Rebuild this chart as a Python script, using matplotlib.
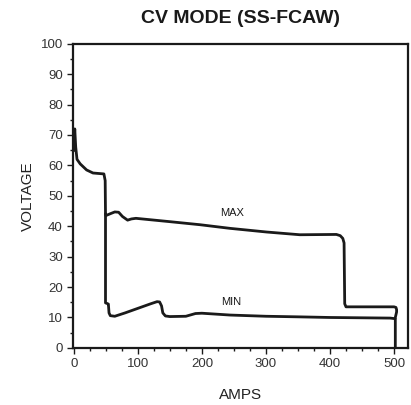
import matplotlib
matplotlib.use("Agg")
import matplotlib.pyplot as plt
from matplotlib.ticker import MultipleLocator

plt.rcParams["font.family"] = ["Liberation Sans Narrow", "Liberation Sans", "DejaVu Sans"]

# ── data ──────────────────────────────────────────────────────────────────────
max_amps = [0, 1.5, 3, 5, 10, 20, 30, 47, 49, 49.5, 50, 58, 64, 70, 76, 84, 90, 97,
            150, 197, 244, 301, 353, 410, 416, 420, 422, 423, 425, 500, 503, 504, 504, 502]
max_volts = [65, 72, 66, 62, 60.5, 58.5, 57.5, 57.2, 55, 44, 43.5, 44.2, 44.7, 44.6,
             43.2, 42.0, 42.4, 42.6, 41.5, 40.5, 39.3, 38.1, 37.2, 37.3, 36.9, 36,
             34.5, 14.5, 13.5, 13.5, 13.3, 12.6, 11.8, 10]

min_amps = [49.5, 49.5, 52, 54, 55, 57, 64, 80, 100, 120, 130, 134, 137, 139, 143,
            150, 175, 190, 200, 244, 300, 353, 400, 494, 502, 502]
min_volts = [44, 14.8, 14.6, 14.4, 11.5, 10.6, 10.4, 11.5, 13, 14.5, 15.2, 15.1,
             13.8, 11.5, 10.5, 10.3, 10.4, 11.3, 11.4, 10.8, 10.4, 10.2, 10.0,
             9.8, 9.6, 0]

labels = ["MAX", "MIN"]
label_pos = [(247, 42.7), (245, 13.6)]

INK = "#1a1a1a"

fig = plt.figure(figsize=(4.11, 4.05), dpi=100)
ax = fig.add_axes([0.178, 0.141, 0.815, 0.751])

ax.plot(max_amps, max_volts, color=INK, lw=2.0, solid_joinstyle="round")
ax.plot(min_amps, min_volts, color=INK, lw=2.0, solid_joinstyle="round")

for lab, (x, y) in zip(labels, label_pos):
    ax.text(x, y, lab, fontsize=8, color=INK, ha="center", va="bottom")

ax.set_xlim(-1, 522)
ax.set_ylim(0, 100)
ax.xaxis.set_major_locator(MultipleLocator(100))
ax.xaxis.set_minor_locator(MultipleLocator(25))
ax.yaxis.set_major_locator(MultipleLocator(10))
ax.yaxis.set_minor_locator(MultipleLocator(5))
ax.tick_params(which="both", direction="out", color=INK, width=1.0,
               labelsize=9.5, labelcolor="#333333", top=False, right=False)
ax.tick_params(which="major", length=4)
ax.tick_params(which="minor", length=2.5)

for s in ax.spines.values():
    s.set_linewidth(1.6)
    s.set_color(INK)

ax.set_xlabel("AMPS", fontsize=11, color="#222222", labelpad=13)
ax.set_ylabel("VOLTAGE", fontsize=11, color="#222222", labelpad=4)
ax.set_title("CV MODE (SS-FCAW)", fontsize=14, fontweight="bold",
             color=INK, pad=15)

fig.savefig("out.png", dpi=100)
